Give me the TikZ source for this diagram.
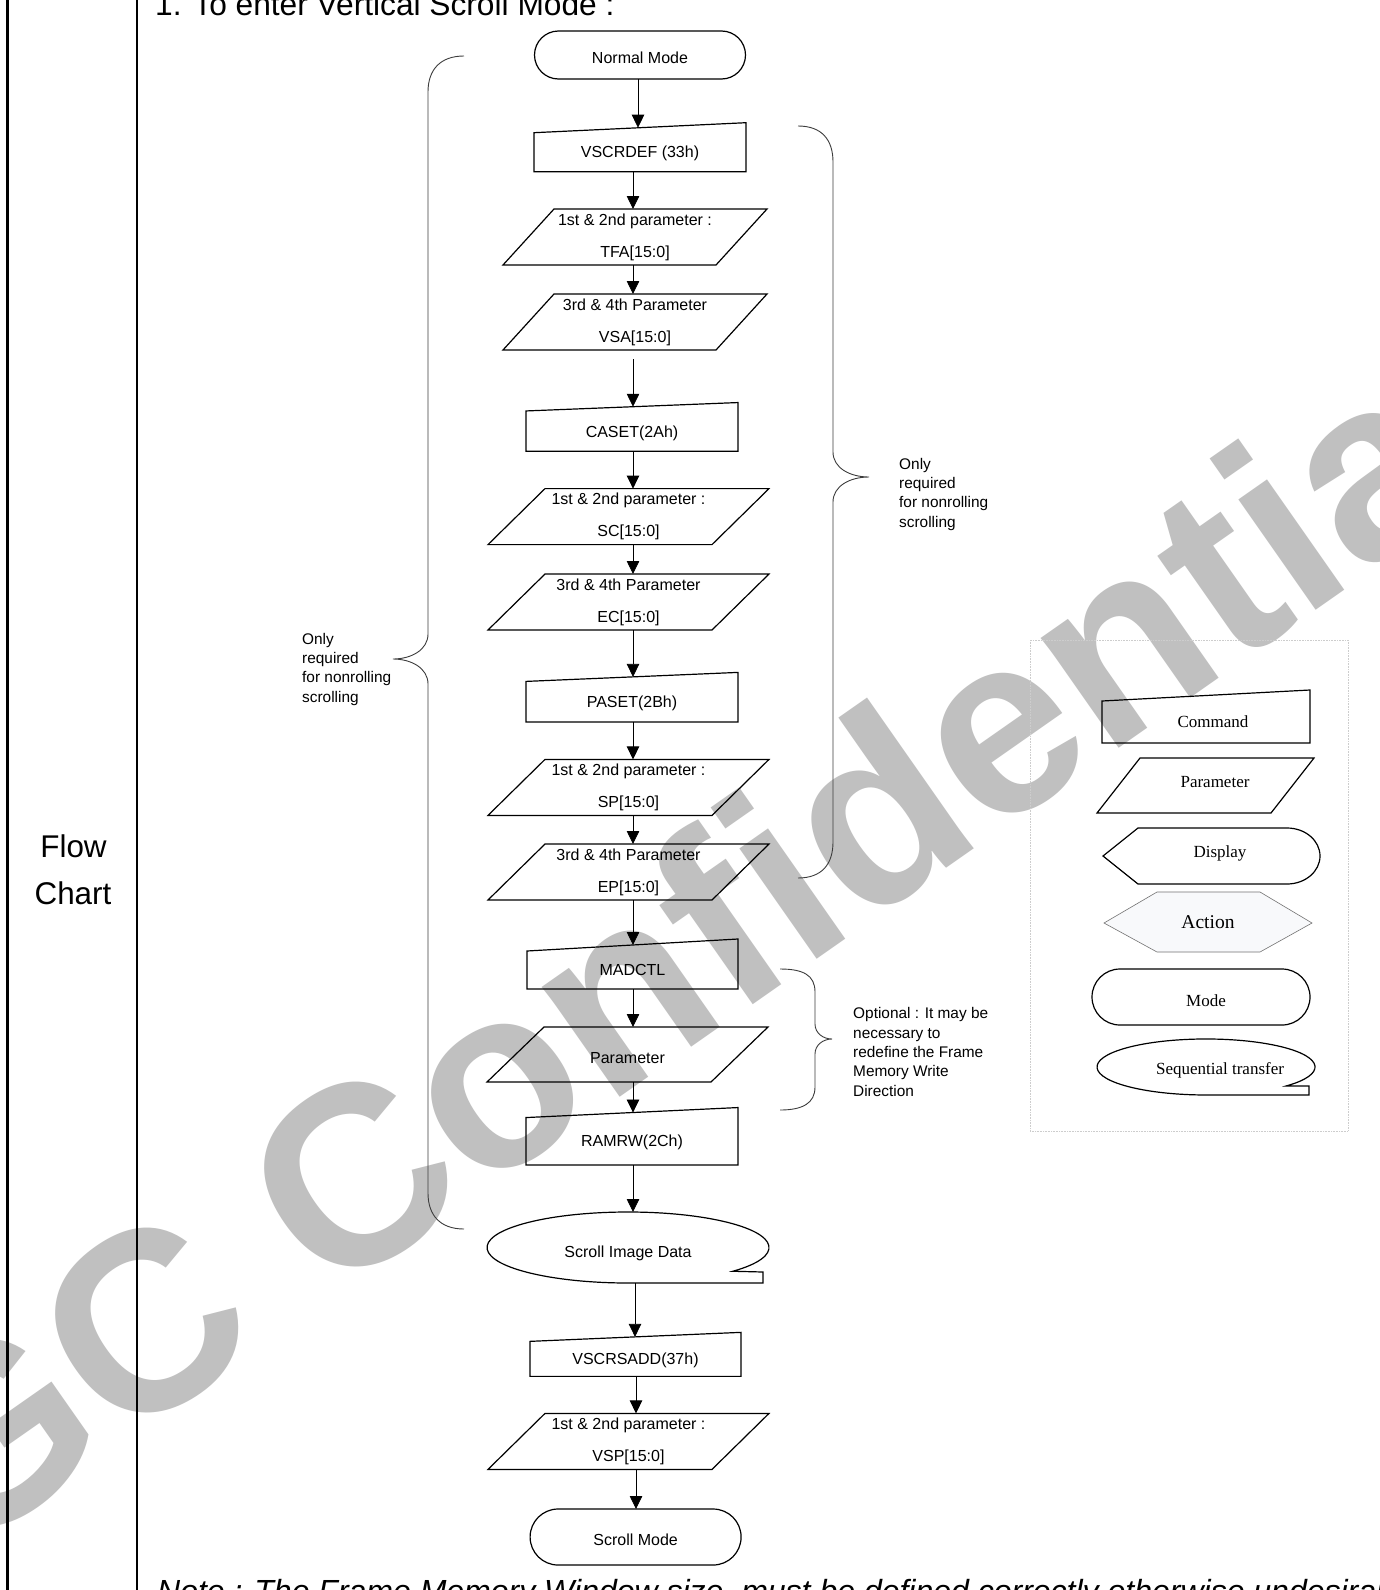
\documentclass[tikz,border=0pt]{standalone}
\usepackage{fontspec}
\setmainfont{Liberation Sans}
\newfontfamily\lgserif{Liberation Serif}
\usetikzlibrary{arrows.meta,calc,shapes.geometric}
\definecolor{wmgray}{RGB}{192,192,192}
\definecolor{actfill}{RGB}{248,249,251}
\definecolor{bracecol}{RGB}{60,60,60}
\definecolor{lgbox}{RGB}{205,205,205}
\begin{document}
\begin{tikzpicture}[x=1pt,y=-1pt,
  box/.style={rectangle, inner sep=0pt, outer sep=0pt, font=\fontsize{16}{32}\selectfont, align=center},
  one/.style={text height=16pt, text depth=0pt},
  shp/.style={draw=black, line width=1.2pt, line join=miter},
  arr/.style={draw=black, line width=0.8pt, -{Triangle[length=13pt,width=12.5pt]}},
  brace/.style={draw=bracecol, line width=0.9pt},
  sidenote/.style={font=\fontsize{15.4}{19.3}\selectfont, align=left, anchor=base west, inner sep=0pt},
  lgtext/.style={font=\lgserif\fontsize{17}{20}\selectfont, anchor=base, inner sep=0pt},
  bigtext/.style={font=\fontsize{31.7}{40}\selectfont, inner sep=0pt}
]
\useasboundingbox (0,0) rectangle (1380,1590);
\fill[white] (0,0) rectangle (1380,1590);
\clip (0,0) rectangle (1380,1590);

% watermark
\node[rotate=35, text=wmgray, font=\fontsize{255}{255}\selectfont\bfseries, inner sep=0pt] (wm) at (623,984) {SGC Confidential};

% frame lines
\coordinate (f1t) at (7.5,0); \coordinate (f1b) at (7.5,1590);
\coordinate (f2t) at (137,0); \coordinate (f2b) at (137,1590);
\draw[line width=3pt] (f1t) -- (f1b);
\draw[line width=1.4pt] (f2t) -- (f2b);

% big texts
\node[bigtext, anchor=base west] (title) at (155,15) {1. To enter Vertical Scroll Mode :};
\node[bigtext, anchor=base, font=\fontsize{31.4}{40}\selectfont] (flow) at (73.5,857) {Flow};
\node[bigtext, anchor=base, font=\fontsize{31.4}{40}\selectfont] (chart) at (73,904) {Chart};
\node[bigtext, anchor=base west, font=\fontsize{32}{40}\selectfont\itshape] (note) at (157,1602) {Note : The Frame Memory Window size\ \ must be defined correctly otherwise undesirable image will be displayed.};

% flowchart nodes
\node[box, one, shp, rounded corners=24pt, minimum width=211pt, minimum height=48pt, text height=17.5pt] (normal) at (640,55) {Normal Mode};
\node[box, one, minimum width=212pt, minimum height=44pt] (vscrdef) at (640,149.7) {VSCRDEF (33h)};
\node[box, minimum width=213pt, minimum height=56pt] (tfa) at (635,237) {1st \& 2nd parameter :\\TFA[15:0]};
\node[box, minimum width=213pt, minimum height=56pt] (vsa) at (635,322) {3rd \& 4th Parameter\\VSA[15:0]};
\node[box, one, minimum width=212pt, minimum height=44.5pt] (caset) at (632,429) {CASET(2Ah)};
\node[box, minimum width=224pt, minimum height=56pt] (sc) at (628.5,516.6) {1st \& 2nd parameter :\\SC[15:0]};
\node[box, minimum width=224pt, minimum height=56pt] (ec) at (628.5,602) {3rd \& 4th Parameter\\EC[15:0]};
\node[box, one, minimum width=212pt, minimum height=45pt] (paset) at (632,699.4) {PASET(2Bh)};
\node[box, minimum width=224pt, minimum height=56pt] (sp) at (628.5,787.4) {1st \& 2nd parameter :\\SP[15:0]};
\node[box, minimum width=224pt, minimum height=56pt] (ep) at (628.5,872) {3rd \& 4th Parameter\\EP[15:0]};
\node[box, one, minimum width=211pt, minimum height=44pt] (madctl) at (632.5,967) {MADCTL};
\node[box, one, minimum width=224pt, minimum height=55pt, text height=17.5pt] (param) at (627.5,1054.5) {Parameter};
\node[box, one, minimum width=212pt, minimum height=52.5pt] (ramrw) at (632,1138.8) {RAMRW(2Ch)};
\node[box, one, ellipse, minimum width=282pt, minimum height=71pt, text height=20pt] (sid) at (628,1247.5) {Scroll Image Data};
\node[box, one, minimum width=211pt, minimum height=39.5pt, text height=15pt] (vscrsadd) at (635.5,1356.6) {VSCRSADD(37h)};
\node[box, minimum width=224pt, minimum height=56pt] (vsp) at (628.5,1441.4) {1st \& 2nd parameter :\\VSP[15:0]};
\node[box, one, shp, rounded corners=28pt, minimum width=211pt, minimum height=56pt, text height=17.5pt] (smode) at (635.6,1537) {Scroll Mode};

% command outlines (manual input shape)
\foreach \n/\s in {vscrdef/5, caset/4.2, paset/4.5, madctl/6, ramrw/5, vscrsadd/4.5}
  \draw[shp] (\n.south west) -- ([yshift=-\s pt]\n.north west) -- ([yshift=\s pt]\n.north east) -- (\n.south east) -- cycle;
% parameter outlines (parallelograms)
\foreach \n/\s in {tfa/25.5, vsa/25.5, sc/28.5, ec/28.5, sp/28.5, ep/28.5, param/28.5, vsp/28.5}
  \draw[shp] ([xshift=\s pt]\n.north west) -- ([xshift=\s pt]\n.north east) -- ([xshift=-\s pt]\n.south east) -- ([xshift=-\s pt]\n.south west) -- cycle;
% sequential transfer outline
\draw[shp] ([xshift=104.8pt,yshift=-23.75pt]sid.center) arc[start angle=-42, end angle=270, x radius=141pt, y radius=35.5pt]
  -- ([xshift=135pt]sid.south) -- ([xshift=135pt,yshift=-24.5pt]sid.center) -- cycle;

% connectors
\coordinate (ax) at (633,0);
\coordinate (bx) at (636,0);
\draw[arr] (normal.south -| 638,0) -- (vscrdef.north -| 638,0);
\draw[arr] (vscrdef.south -| ax) -- (tfa.north -| ax);
\draw[arr] (tfa.south -| ax) -- (vsa.north -| ax);
\draw[arr] ([yshift=-9pt]vsa.south -| ax) -- (caset.north -| ax);
\draw[arr] (caset.south -| ax) -- (sc.north -| ax);
\draw[arr] (sc.south -| ax) -- (ec.north -| ax);
\draw[arr] (ec.south -| ax) -- (paset.north -| ax);
\draw[arr] (paset.south -| ax) -- (sp.north -| ax);
\draw[arr] (sp.south -| ax) -- (ep.north -| ax);
\draw[arr] (ep.south -| ax) -- (madctl.north -| ax);
\draw[arr] (madctl.south -| ax) -- (param.north -| ax);
\draw[arr] (param.south -| ax) -- (ramrw.north -| ax);
\draw[arr] (ramrw.south -| ax) -- (sid.north -| ax);
\draw[arr] (sid.south -| 635,0) -- (vscrsadd.north -| 635,0);
\draw[arr] (vscrsadd.south -| bx) -- (vsp.north -| bx);
\draw[arr] (vsp.south -| bx) -- (smode.north -| bx);

% braces
\draw[brace] (798,126) .. controls (822,126) and (833,140) .. (833,162) -- (833,452)
  .. controls (833,468) and (850,477) .. (869,477) .. controls (850,477) and (833,486) .. (833,502)
  -- (833,842) .. controls (833,864) and (822,878) .. (798,878);
\draw[brace] (464,56) .. controls (440,56) and (428,70) .. (428,92) -- (428,634)
  .. controls (428,650) and (411,659) .. (393,659) .. controls (411,659) and (428,668) .. (428,684)
  -- (428,1193) .. controls (428,1215) and (440,1229) .. (464,1229);
\draw[brace] (780,969) .. controls (803,969) and (815,975) .. (815,992) -- (815,1024)
  .. controls (815,1033) and (823,1039) .. (832,1039) .. controls (823,1039) and (815,1045) .. (815,1054)
  -- (815,1087) .. controls (815,1103) and (803,1110) .. (780,1110);

% side notes (base anchor = baseline of last line)
\node[sidenote] (noteR) at (899,527) {Only\\required\\for nonrolling\\scrolling};
\node[sidenote] (noteL) at (302,702) {Only\\required\\for nonrolling\\scrolling};
\node[sidenote] (noteO) at (853,1096) {Optional : It may be\\necessary to\\redefine the Frame\\Memory Write\\Direction};

% legend
\draw[lgbox, densely dotted, line width=0.6pt] (1030,640) rectangle (1348,1131);
\draw[shp] (1102,743) -- (1102,701) -- (1310,690) -- (1310,743) -- cycle;
\draw[shp] (1140,758) -- (1314,758) -- (1271,813) -- (1097,813) -- cycle;
\draw[shp] (1103,856) -- (1138,828) -- (1287,828) arc[start angle=90, end angle=-90, x radius=33pt, y radius=28pt] -- (1138,884) -- cycle;
\draw[draw=black!55, fill=actfill, line width=0.6pt] (1104,923) -- (1157,892) -- (1260,892) -- (1312,923) -- (1260,952) -- (1157,952) -- cycle;
\draw[shp, rounded corners=28pt] (1092,969) rectangle (1310,1025);
\draw[shp] (1286,1086) arc[start angle=-42.8, end angle=270, x radius=109pt, y radius=28pt] -- (1309,1095) -- (1309,1086) -- cycle;
\node[lgtext] (lcmd) at (1213,727) {Command};
\node[lgtext] (lpar) at (1215,787) {Parameter};
\node[lgtext] (ldisp) at (1220,857) {Display};
\node[lgtext, font=\lgserif\fontsize{19.5}{22}\selectfont] (lact) at (1208,928) {Action};
\node[lgtext] (lmode) at (1206,1006) {Mode};
\node[lgtext] (lseq) at (1220,1074) {Sequential transfer};
\end{tikzpicture}
\end{document}
